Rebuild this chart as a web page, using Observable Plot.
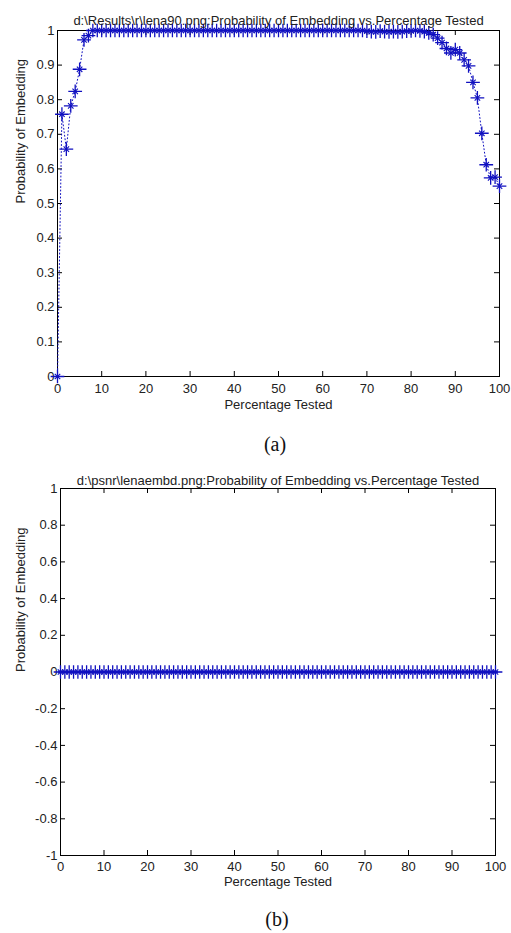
<!DOCTYPE html>
<html>
<head>
<meta charset="utf-8">
<script src="https://cdn.jsdelivr.net/npm/d3@7"></script>
<script src="https://cdn.jsdelivr.net/npm/@observablehq/plot@0.6"></script>
<style>
  html, body { margin: 0; padding: 0; background: #fff; }
  #wrap { position: relative; width: 511px; height: 933px; overflow: hidden; background: #fff; }
  .panel { position: absolute; left: 0; }
  .cap { position: absolute; width: 60px; text-align: center; font-family: "Liberation Serif", "Times New Roman", serif; font-size: 20px; color: #111; line-height: 20px; }
</style>
</head>
<body>
<div id="wrap">
  <div id="pa" class="panel" style="top:0px"></div>
  <div class="cap" style="left:245px; top:434px">(a)</div>
  <div id="pb" class="panel" style="top:460px"></div>
  <div class="cap" style="left:247px; top:909px">(b)</div>
</div>
<script>
// ---- data ----
const percentTested = [0,1,2,3,4,5,6,7,8,9,10,11,12,13,14,15,16,17,18,19,20,21,22,23,24,25,26,27,28,29,30,31,32,33,34,35,36,37,38,39,40,41,42,43,44,45,46,47,48,49,50,51,52,53,54,55,56,57,58,59,60,61,62,63,64,65,66,67,68,69,70,71,72,73,74,75,76,77,78,79,80,81,82,83,84,85,86,87,88,89,90,91,92,93,94,95,96,97,98,99,100];

const probA = [
  0, 0.758, 0.657, 0.782, 0.824, 0.888, 0.973, 0.985, 1, 1,
  1, 1, 1, 1, 1, 1, 1, 1, 1, 1,
  1, 1, 1, 1, 1, 1, 1, 1, 1, 1,
  1, 1, 1, 1, 1, 1, 1, 1, 1, 1,
  1, 1, 1, 1, 1, 1, 1, 1, 1, 1,
  1, 1, 1, 1, 1, 1, 1, 1, 1, 1,
  1, 1, 1, 1, 1, 1, 1, 1, 1, 1,
  0.998, 0.997, 0.996, 0.998, 0.997, 0.996, 0.997, 0.996, 0.997, 0.998,
  0.999, 1, 0.999, 0.997, 0.993, 0.988, 0.978, 0.965, 0.948, 0.935,
  0.945, 0.935, 0.915, 0.898, 0.85, 0.805, 0.703, 0.612, 0.574, 0.576,
  0.55
];

const probB = [
  0, 0, 0, 0, 0, 0, 0, 0, 0, 0,
  0, 0, 0, 0, 0, 0, 0, 0, 0, 0,
  0, 0, 0, 0, 0, 0, 0, 0, 0, 0,
  0, 0, 0, 0, 0, 0, 0, 0, 0, 0,
  0, 0, 0, 0, 0, 0, 0, 0, 0, 0,
  0, 0, 0, 0, 0, 0, 0, 0, 0, 0,
  0, 0, 0, 0, 0, 0, 0, 0, 0, 0,
  0, 0, 0, 0, 0, 0, 0, 0, 0, 0,
  0, 0, 0, 0, 0, 0, 0, 0, 0, 0,
  0, 0, 0, 0, 0, 0, 0, 0, 0, 0,
  0
];

const xTicks = [0, 10, 20, 30, 40, 50, 60, 70, 80, 90, 100];
const yTicksA = [0, 0.1, 0.2, 0.3, 0.4, 0.5, 0.6, 0.7, 0.8, 0.9, 1];
const yTicksB = [-1, -0.8, -0.6, -0.4, -0.2, 0, 0.2, 0.4, 0.6, 0.8, 1];

const titleA = "d:\\Results\\r\\lena90.png:Probability of Embedding vs.Percentage Tested";
const titleB = "d:\\psnr\\lenaembd.png:Probability of Embedding vs.Percentage Tested";
const xLabel = "Percentage Tested";
const yLabel = "Probability of Embedding";

// ---- drawing ----
const blue = "#1010c0";

function panel({values, yDomain, yTicks, title, width, height, mt, mb, ml, mr, titleDy, xLabelDy, yLabelDx, tickPad}) {
  const data = percentTested.map((p, i) => ({p, v: values[i]}));
  const ih = height - mt - mb;
  const iw = width - ml - mr;
  const fmt = d => String(d);
  return Plot.plot({
    width, height,
    marginTop: mt, marginBottom: mb, marginLeft: ml, marginRight: mr,
    x: {domain: [0, 100]},
    y: {domain: yDomain},
    style: {fontFamily: "'Liberation Sans', Arial, sans-serif", fontSize: "13px", color: "#222", background: "white", overflow: "visible"},
    marks: [
      Plot.frame({stroke: "#000", strokeWidth: 1}),
      Plot.tickX(xTicks, {x: d => d, insetTop: ih - 5, stroke: "#000"}),
      Plot.tickX(xTicks, {x: d => d, insetBottom: ih - 5, stroke: "#000"}),
      Plot.tickY(yTicks, {y: d => d, insetRight: iw - 5, stroke: "#000"}),
      Plot.tickY(yTicks, {y: d => d, insetLeft: iw - 5, stroke: "#000"}),
      Plot.axisX(xTicks, {tickSize: 0, tickPadding: tickPad, tickFormat: fmt, label: null, fill: "#222"}),
      Plot.axisY(yTicks, {tickSize: 0, tickPadding: 3, tickFormat: fmt, label: null, fill: "#222"}),
      Plot.line(data, {x: "p", y: "v", stroke: blue, strokeWidth: 1, strokeDasharray: "1,2.5"}),
      Plot.dot(data, {x: "p", y: "v", symbol: "plus", r: 4.5, stroke: blue, strokeWidth: 1.3}),
      Plot.dot(data, {x: "p", y: "v", symbol: "times", r: 2.6, stroke: blue, strokeWidth: 1.1}),
      Plot.text([title], {frameAnchor: "top", dy: titleDy, text: d => d, fill: "#222"}),
      Plot.text([xLabel], {frameAnchor: "bottom", dy: xLabelDy, text: d => d, fill: "#222"}),
      Plot.text([yLabel], {frameAnchor: "left", dx: yLabelDx, rotate: -90, text: d => d, fill: "#222"})
    ]
  });
}

document.getElementById("pa").append(panel({
  values: probA, yDomain: [0, 1], yTicks: yTicksA, title: titleA,
  width: 511, height: 420, mt: 30, mb: 44, ml: 57, mr: 12,
  titleDy: -15, xLabelDy: 32, yLabelDx: -37, tickPad: 7
}));

document.getElementById("pb").append(panel({
  values: probB, yDomain: [-1, 1], yTicks: yTicksB, title: titleB,
  width: 511, height: 440, mt: 28, mb: 45, ml: 60, mr: 16,
  titleDy: -13, xLabelDy: 30, yLabelDx: -40, tickPad: 6
}));
</script>
</body>
</html>
